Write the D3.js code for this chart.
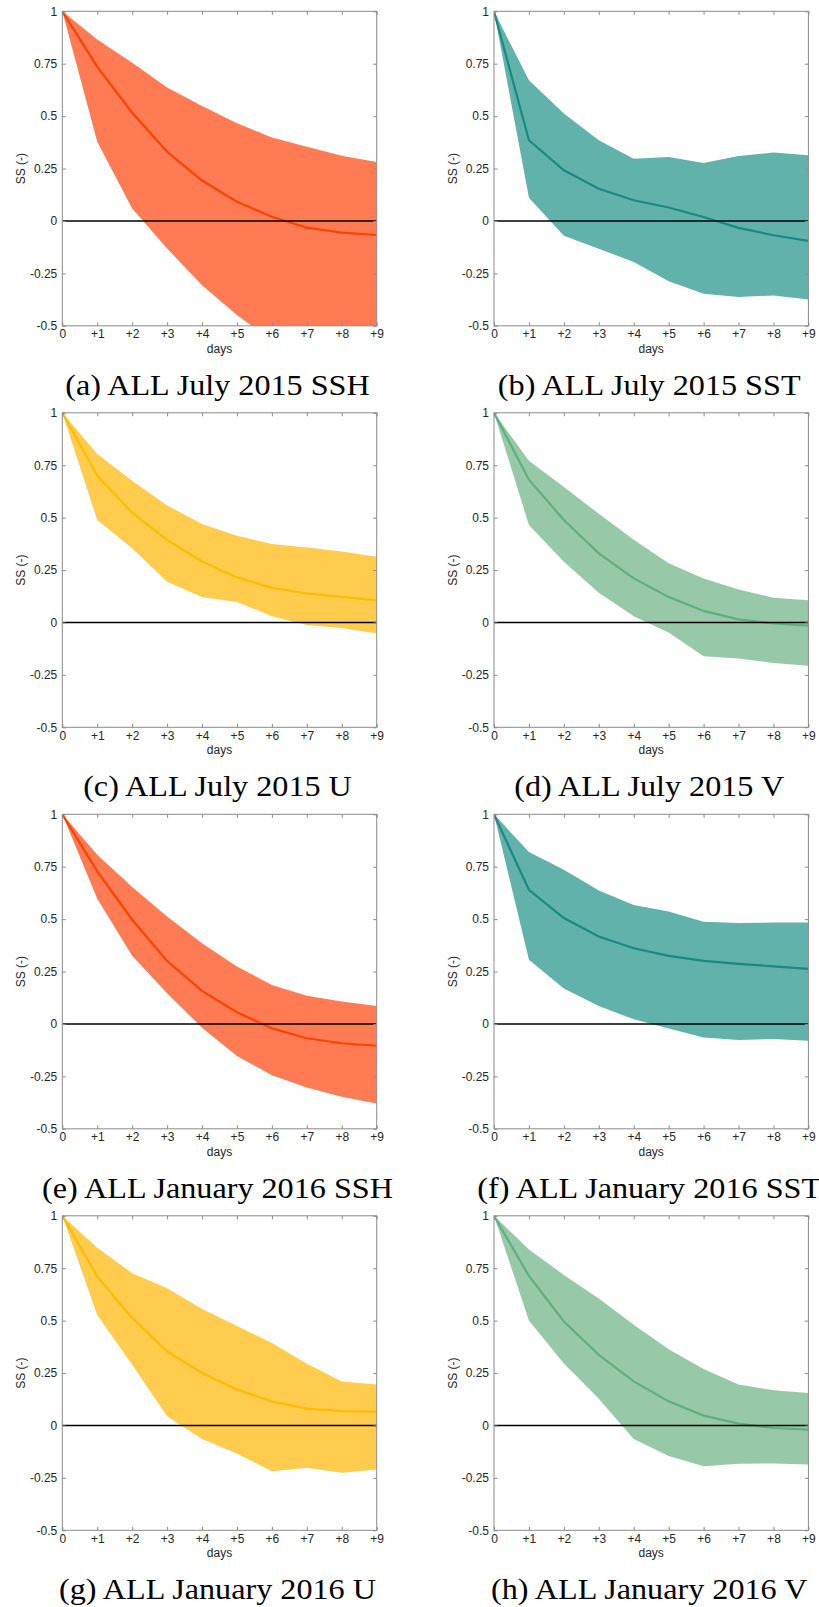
<!DOCTYPE html>
<html>
<head>
<meta charset="utf-8">
<script src="https://cdn.jsdelivr.net/npm/d3@7"></script>
<style>
  html, body { margin: 0; padding: 0; background: #fff; }
  svg { display: block; }
</style>
</head>
<body>
<div id="chart"></div>
<script>
// lead time (days) and tick labels
const days = [0, 1, 2, 3, 4, 5, 6, 7, 8, 9];
const dayLabels = ["0", "+1", "+2", "+3", "+4", "+5", "+6", "+7", "+8", "+9"];
const ssTicks = [-0.5, -0.25, 0, 0.25, 0.5, 0.75, 1];
const ssLabels = ["-0.5", "-0.25", "0", "0.25", "0.5", "0.75", "1"];

// skill score: mean and spread (upper / lower) per variable and period
const sshJul15Mean  = [1, 0.735, 0.516, 0.330, 0.193, 0.092, 0.020, -0.032, -0.056, -0.067];
const sshJul15Upper = [1, 0.866, 0.755, 0.637, 0.548, 0.466, 0.398, 0.354, 0.311, 0.281];
const sshJul15Lower = [1, 0.378, 0.060, -0.131, -0.306, -0.449, -0.570, -0.640, -0.700, -0.750];

const sstJul15Mean  = [1, 0.385, 0.242, 0.154, 0.099, 0.064, 0.019, -0.033, -0.068, -0.095];
const sstJul15Upper = [1, 0.671, 0.512, 0.385, 0.297, 0.305, 0.277, 0.310, 0.326, 0.313];
const sstJul15Lower = [1, 0.111, -0.070, -0.132, -0.196, -0.288, -0.347, -0.363, -0.355, -0.375];

const uJul15Mean  = [1, 0.700, 0.524, 0.394, 0.291, 0.215, 0.165, 0.138, 0.122, 0.105];
const uJul15Upper = [1, 0.803, 0.676, 0.558, 0.470, 0.414, 0.374, 0.357, 0.338, 0.314];
const uJul15Lower = [1, 0.489, 0.354, 0.194, 0.122, 0.098, 0.030, -0.012, -0.026, -0.053];

const vJul15Mean  = [1, 0.681, 0.489, 0.330, 0.210, 0.122, 0.055, 0.015, -0.005, -0.015];
const vJul15Upper = [1, 0.771, 0.646, 0.518, 0.394, 0.282, 0.210, 0.157, 0.118, 0.106];
const vJul15Lower = [1, 0.465, 0.290, 0.142, 0.030, -0.048, -0.161, -0.172, -0.193, -0.206];

const sshJan16Mean  = [1, 0.728, 0.497, 0.300, 0.158, 0.056, -0.021, -0.068, -0.092, -0.104];
const sshJan16Upper = [1, 0.807, 0.653, 0.513, 0.385, 0.274, 0.186, 0.134, 0.107, 0.086];
const sshJan16Lower = [1, 0.597, 0.325, 0.146, -0.018, -0.153, -0.244, -0.303, -0.347, -0.379];

const sstJan16Mean  = [1, 0.640, 0.505, 0.417, 0.361, 0.325, 0.301, 0.287, 0.275, 0.263];
const sstJan16Upper = [1, 0.820, 0.736, 0.637, 0.568, 0.537, 0.487, 0.481, 0.484, 0.484];
const sstJan16Lower = [1, 0.306, 0.169, 0.086, 0.022, -0.022, -0.065, -0.076, -0.072, -0.080];

const uJan16Mean  = [1, 0.710, 0.512, 0.353, 0.250, 0.171, 0.115, 0.080, 0.068, 0.066];
const uJan16Upper = [1, 0.848, 0.726, 0.654, 0.555, 0.475, 0.393, 0.294, 0.210, 0.195];
const uJan16Lower = [1, 0.527, 0.290, 0.044, -0.064, -0.134, -0.218, -0.202, -0.226, -0.210];

const vJan16Mean  = [1, 0.713, 0.496, 0.337, 0.210, 0.115, 0.047, 0.009, -0.012, -0.020];
const vJan16Upper = [1, 0.839, 0.718, 0.606, 0.480, 0.364, 0.269, 0.195, 0.168, 0.155];
const vJan16Lower = [1, 0.501, 0.295, 0.127, -0.064, -0.146, -0.194, -0.183, -0.181, -0.186];

const captions = [
  "(a) ALL July 2015 SSH", "(b) ALL July 2015 SST",
  "(c) ALL July 2015 U", "(d) ALL July 2015 V",
  "(e) ALL January 2016 SSH", "(f) ALL January 2016 SST",
  "(g) ALL January 2016 U", "(h) ALL January 2016 V"
];

const colors = {
  SSH: { fill: "#ff7b54", line: "#ff4200" },
  SST: { fill: "#62b2ac", line: "#1a8a80" },
  U:   { fill: "#ffcc4d", line: "#ffbb00" },
  V:   { fill: "#97c9a8", line: "#60ae80" }
};

const panels = [
  { v: "SSH", mean: sshJul15Mean, upper: sshJul15Upper, lower: sshJul15Lower },
  { v: "SST", mean: sstJul15Mean, upper: sstJul15Upper, lower: sstJul15Lower },
  { v: "U",   mean: uJul15Mean,   upper: uJul15Upper,   lower: uJul15Lower },
  { v: "V",   mean: vJul15Mean,   upper: vJul15Upper,   lower: vJul15Lower },
  { v: "SSH", mean: sshJan16Mean, upper: sshJan16Upper, lower: sshJan16Lower },
  { v: "SST", mean: sstJan16Mean, upper: sstJan16Upper, lower: sstJan16Lower },
  { v: "U",   mean: uJan16Mean,   upper: uJan16Upper,   lower: uJan16Lower },
  { v: "V",   mean: vJan16Mean,   upper: vJan16Upper,   lower: vJan16Lower }
];

const W = 819, H = 1607;
const colX = [62.3, 494];
const rowY0 = 11.3, rowStep = 401.5;
const pw = 314.4, ph = 314.5;
const axisColor = "#8a8a8a";
const textColor = "#262626";
const sans = "'Liberation Sans', Arial, sans-serif";

const svg = d3.select("#chart").append("svg")
  .attr("width", W)
  .attr("height", H);

const x = d3.scaleLinear().domain([0, 9]).range([0, pw]);
const y = d3.scaleLinear().domain([-0.5, 1]).range([ph, 0]);

const area = d3.area()
  .x((d, i) => x(days[i]))
  .y0(d => y(d[0]))
  .y1(d => y(d[1]));
const line = d3.line()
  .x((d, i) => x(days[i]))
  .y(d => y(d));

panels.forEach((p, k) => {
  const col = k % 2, row = Math.floor(k / 2);
  const g = svg.append("g")
    .attr("transform", `translate(${colX[col]},${rowY0 + row * rowStep})`);

  const clipId = "clip" + k;
  g.append("clipPath").attr("id", clipId)
    .append("rect").attr("width", pw).attr("height", ph);

  const plot = g.append("g").attr("clip-path", `url(#${clipId})`);
  const band = p.lower.map((lo, i) => [lo, p.upper[i]]);

  plot.append("path")
    .datum(band)
    .attr("d", area)
    .attr("fill", colors[p.v].fill);

  plot.append("path")
    .datum(p.mean)
    .attr("d", line)
    .attr("fill", "none")
    .attr("stroke", colors[p.v].line)
    .attr("stroke-width", 2.2);

  // zero reference
  plot.append("line")
    .attr("x1", 0).attr("x2", pw)
    .attr("y1", y(0)).attr("y2", y(0))
    .attr("stroke", "#000")
    .attr("stroke-width", 1.4);

  // axes, ticks pointing inwards on all four sides
  const left = g.append("g")
    .call(d3.axisLeft(y).tickValues(ssTicks)
      .tickFormat((d, i) => ssLabels[i])
      .tickSizeInner(-3.5).tickSizeOuter(0).tickPadding(5));
  const bottom = g.append("g")
    .attr("transform", `translate(0,${ph})`)
    .call(d3.axisBottom(x).tickValues(days)
      .tickFormat((d, i) => dayLabels[i])
      .tickSizeInner(-3.5).tickSizeOuter(0).tickPadding(4));
  const top = g.append("g")
    .call(d3.axisTop(x).tickValues(days).tickFormat("")
      .tickSizeInner(-3.5).tickSizeOuter(0));
  const right = g.append("g")
    .attr("transform", `translate(${pw},0)`)
    .call(d3.axisRight(y).tickValues(ssTicks).tickFormat("")
      .tickSizeInner(-3.5).tickSizeOuter(0));

  [left, bottom, top, right].forEach(a => {
    a.select(".domain").remove();
    a.selectAll(".tick line").attr("stroke", axisColor);
    a.selectAll(".tick text")
      .attr("fill", textColor)
      .style("font-family", sans)
      .style("font-size", "12px");
  });

  g.append("rect")
    .attr("width", pw).attr("height", ph)
    .attr("fill", "none")
    .attr("stroke", axisColor)
    .attr("stroke-width", 1);

  g.append("text")
    .attr("x", pw / 2).attr("y", ph + 27)
    .attr("text-anchor", "middle")
    .attr("fill", textColor)
    .style("font-family", sans)
    .style("font-size", "12px")
    .text("days");

  g.append("text")
    .attr("transform", `translate(-37,${ph / 2}) rotate(-90)`)
    .attr("text-anchor", "middle")
    .attr("fill", textColor)
    .style("font-family", sans)
    .style("font-size", "12px")
    .text("SS (-)");

  // caption: widened a little to match the LaTeX roman face
  g.append("text")
    .attr("transform", `translate(${pw / 2 - 2},${ph + 69}) scale(1.11,1)`)
    .attr("text-anchor", "middle")
    .attr("fill", "#000")
    .style("font-family", "'Liberation Serif', 'Times New Roman', serif")
    .style("font-size", "29px")
    .text(captions[k]);
});
</script>
</body>
</html>
